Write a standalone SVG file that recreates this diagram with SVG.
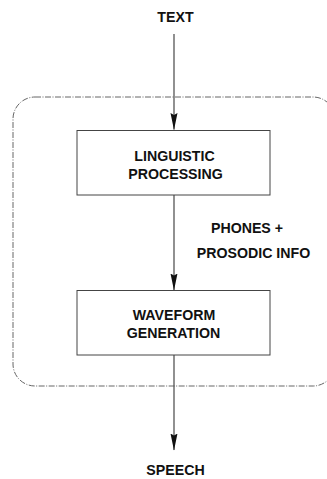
<svg xmlns="http://www.w3.org/2000/svg" width="327" height="479" viewBox="0 0 327 479">
<defs>
<style>
.lbl{font-family:"Liberation Sans",Arial,sans-serif;font-weight:bold;font-size:14.2px;fill:#111;text-anchor:middle}
.box{fill:#fff;stroke:#444;stroke-width:1}
.conn{stroke:#555;stroke-width:1.3;fill:none}
</style>
<marker id="ah" viewBox="0 0 17 8" refX="16.5" refY="4" markerWidth="17" markerHeight="8" markerUnits="userSpaceOnUse" orient="auto">
<path d="M0,0.5 L2,4 L0,7.5 L17,4 Z" fill="#111"/>
</marker>
</defs>
<rect id="boundary" x="13" y="97" width="322" height="289" rx="22" ry="22" fill="none" stroke="#666" stroke-width="1" stroke-dasharray="6 1.5 1 1.5"/>
<g id="connectors">
<line class="conn" x1="174" y1="34" x2="174" y2="129.5" marker-end="url(#ah)"/>
<line class="conn" x1="174" y1="195" x2="174" y2="290" marker-end="url(#ah)"/>
<line class="conn" x1="174" y1="355" x2="174" y2="450" marker-end="url(#ah)"/>
</g>
<g id="text-in"><text class="lbl" x="175.5" y="22">TEXT</text></g>
<g id="linguistic">
<rect class="box" x="77" y="130.5" width="193" height="64.5"/>
<text class="lbl" x="174.5" y="161">LINGUISTIC</text>
<text class="lbl" x="175.5" y="178.5">PROCESSING</text>
</g>
<g id="phones-label">
<text class="lbl" x="247" y="233">PHONES +</text>
<text class="lbl" x="253.5" y="257.5">PROSODIC INFO</text>
</g>
<g id="waveform">
<rect class="box" x="77" y="290.5" width="193" height="64.5"/>
<text class="lbl" x="174" y="320">WAVEFORM</text>
<text class="lbl" x="173.5" y="338">GENERATION</text>
</g>
<g id="speech"><text class="lbl" x="175.5" y="475">SPEECH</text></g>
</svg>
